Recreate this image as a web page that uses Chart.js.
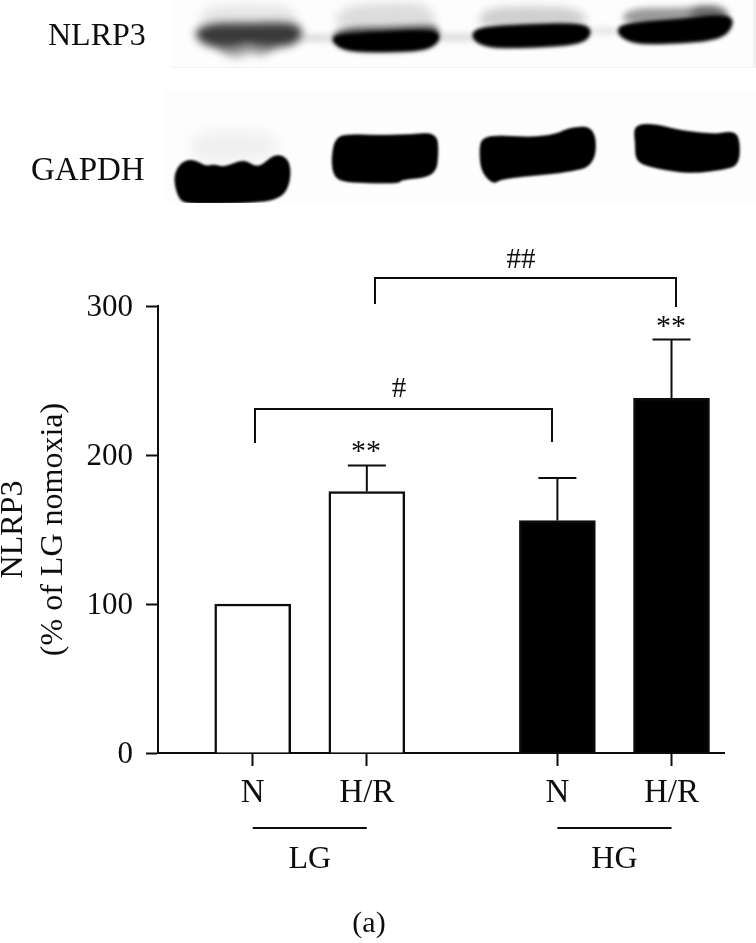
<!DOCTYPE html>
<html><head><meta charset="utf-8">
<style>html,body{margin:0;padding:0;background:#fff}canvas{display:block}</style>
<script src="https://cdn.jsdelivr.net/npm/chart.js@4"></script>
</head><body><canvas id="c" width="756" height="943"></canvas>
<script>
const categories = ['N','H/R','N','H/R'];
const slots = [1,2,3.67,4.67];
const groups = ['LG','LG','HG','HG'];
const values = [100,175.5,156,238];
const errorTops = [null,193,184.5,277.5];
const barFills = ['#ffffff','#ffffff','#000000','#000000'];
const yTicks = [0,100,200,300];
const INK='#0d0d0d';
const SERIF='"Liberation Serif","Times New Roman",serif';

function band(ctx,pts,color,blur,times){
  ctx.save();ctx.filter='blur('+blur+'px)';ctx.fillStyle=color;
  for(let t=0;t<(times||1);t++){
    ctx.beginPath();
    const n=pts.length,m=(a,b)=>[(a[0]+b[0])/2,(a[1]+b[1])/2];
    const s=m(pts[n-1],pts[0]);ctx.moveTo(s[0],s[1]);
    pts.forEach((p,i)=>{const e=m(p,pts[(i+1)%n]);ctx.quadraticCurveTo(p[0],p[1],e[0],e[1]);});
    ctx.closePath();ctx.fill();
  }
  ctx.restore();
}
const blotPlugin={id:'blot',beforeDraw(chart){
  const c=chart.ctx;c.save();
  c.fillStyle='#fdfdfd';c.fillRect(172,0,584,67);c.fillRect(165,90,591,113);
  c.fillStyle='#f1f1f1';c.fillRect(172,67,584,1);c.fillRect(753,0,3,68);
  // NLRP3 smears above and below the bands
  band(c,[[203,6],[250,4],[294,6],[300,30],[196,30]],'#e6e6e6',5);
  band(c,[[338,6],[400,2],[432,6],[438,32],[334,34]],'#dcdcdc',5);
  band(c,[[482,8],[530,6],[582,8],[590,28],[476,30]],'#cfcfcf',4);
  band(c,[[626,8],[680,8],[726,6],[730,24],[620,26]],'#9a9a9a',3);
  band(c,[[690,8],[722,6],[728,22],[690,22]],'#666666',4);
  band(c,[[212,42],[285,42],[262,58],[250,52],[240,58],[225,56]],'#a8a8a8',4);
  band(c,[[296,35],[340,35],[340,41],[296,41]],'#d4d4d4',3);
  band(c,[[434,34],[478,34],[478,41],[434,41]],'#d8d8d8',3);
  band(c,[[586,28],[622,28],[622,34],[586,34]],'#e0e0e0',3);
  // NLRP3 bands
  band(c,[[192,33],[208,23],[250,23],[297,22],[304,34],[294,46],[262,48],[250,44],[228,49],[205,46]],'#3a3a3a',4);
  band(c,[[340,28],[390,27],[432,25],[438,28],[440,38],[428,49],[385,51],[345,50],[331,38]],'#444444',3);
  band(c,[[336,36],[380,33],[434,31],[440,38],[428,49],[385,51],[345,50],[332,40]],'#000',2,2);
  band(c,[[478,28],[530,25],[584,24],[592,33],[580,44],[525,47],[486,47],[471,37]],'#000',2,2);
  band(c,[[624,24],[680,20],[726,15],[734,22],[722,39],[670,43],[632,43],[616,32]],'#000',2,2);
  // GAPDH smear and bands
  band(c,[[190,130],[275,130],[280,160],[190,165]],'#f0f0f0',6);
  band(c,[[174,176],[182,162],[194,160],[205,167],[214,165],[224,168],[244,160],[254,167],[262,166],[276,154],[289,160],[290,180],[283,196],[262,202],[186,204],[178,196]],'#000',1.5,2);
  band(c,[[336,137],[352,135],[380,136],[412,135],[436,133],[438,152],[435,176],[400,179],[400,183],[345,182],[334,176],[332,158]],'#000',1.5,2);
  band(c,[[482,138],[500,136],[530,138],[556,135],[570,128],[595,127],[595,165],[566,172],[500,178],[494,184],[482,172],[480,152]],'#000',1.5,2);
  band(c,[[634,126],[652,124],[680,131],[715,135],[730,132],[739,136],[739,165],[722,169],[700,172],[680,172],[648,166],[636,160],[636,142]],'#000',1.5,2);
  c.fillStyle='#fff';c.fillRect(165,203,300,8);
  // band labels
  c.fillStyle=INK;c.textBaseline='alphabetic';c.textAlign='left';
  c.font='32px '+SERIF;c.fillText('NLRP3',48,45);
  c.font='33px '+SERIF;c.fillText('GAPDH',31,180);
  c.restore();
}};
const annPlugin={id:'ann',afterDraw(chart){
  const c=chart.ctx,x=chart.scales.x,y=chart.scales.y;
  c.save();c.strokeStyle=INK;c.lineWidth=2;c.lineCap='butt';
  // error bars
  errorTops.forEach((t,i)=>{ if(t==null)return;
    const px=x.getPixelForValue(slots[i]),top=y.getPixelForValue(t),base=y.getPixelForValue(values[i]);
    c.beginPath();c.moveTo(px,base);c.lineTo(px,top);c.moveTo(px-19,top);c.lineTo(px+19,top);c.stroke();
  });
  // significance brackets
  const br=[[255,552,409,443,442],[375,676,278,304,307]];
  br.forEach(b=>{c.beginPath();c.moveTo(b[0],b[3]);c.lineTo(b[0],b[2]);c.lineTo(b[1],b[2]);c.lineTo(b[1],b[4]);c.stroke();});
  // group lines
  [[0,1],[2,3]].forEach(p=>{c.beginPath();c.moveTo(x.getPixelForValue(slots[p[0]]),828);c.lineTo(x.getPixelForValue(slots[p[1]]),828);c.stroke();});
  c.fillStyle=INK;c.textAlign='center';c.textBaseline='alphabetic';
  c.font='32px '+SERIF;
  c.fillText(groups[0],(x.getPixelForValue(slots[0])+x.getPixelForValue(slots[1]))/2,868);
  c.fillText(groups[2],(x.getPixelForValue(slots[2])+x.getPixelForValue(slots[3]))/2,868);
  c.font='30px '+SERIF;
  c.fillText('(a)',369,932);
  c.font='29px '+SERIF;
  c.fillText('##',521,268);c.fillText('#',399,397);
  c.font='30px '+SERIF;
  c.fillText('**',366,460);c.fillText('**',671,335);
  c.restore();
}};
new Chart(document.getElementById('c'),{
  type:'bar',
  data:{datasets:[{data:slots.map((s,i)=>({x:s,y:values[i]})),backgroundColor:barFills,borderColor:INK,borderWidth:2.5,borderSkipped:'bottom',barThickness:76}]},
  plugins:[blotPlugin,annPlugin],
  options:{responsive:false,animation:false,devicePixelRatio:1,
    layout:{padding:{left:0,top:306,right:32,bottom:0}},
    plugins:{legend:{display:false},tooltip:{enabled:false}},
    scales:{
      x:{type:'linear',min:0.17,max:5.13,offset:false,
        afterBuildTicks(s){s.ticks=slots.map(v=>({value:v}));},
        afterFit(s){s.height=190;},
        grid:{offset:false,drawOnChartArea:false,drawTicks:true,tickLength:13,tickWidth:2,tickColor:INK},
        border:{color:INK,width:2},
        ticks:{autoSkip:false,maxRotation:0,color:INK,padding:8,font:{family:SERIF,size:33},
          callback(v){return categories[slots.indexOf(v)]??'';}}
      },
      y:{min:0,max:300,
        afterBuildTicks(s){s.ticks=yTicks.map(v=>({value:v}));},
        afterFit(s){s.width=158;},
        grid:{drawOnChartArea:false,tickLength:12,tickWidth:2,tickColor:INK},
        border:{color:INK,width:2},
        ticks:{color:INK,padding:13,labelOffset:2,font:{family:SERIF,size:31}},
        title:{display:true,text:['NLRP3','(% of LG nomoxia)'],color:INK,font:{family:SERIF,size:32,lineHeight:1.25},padding:{top:-6,bottom:0}}
      }
    }
  }
});
</script></body></html>
